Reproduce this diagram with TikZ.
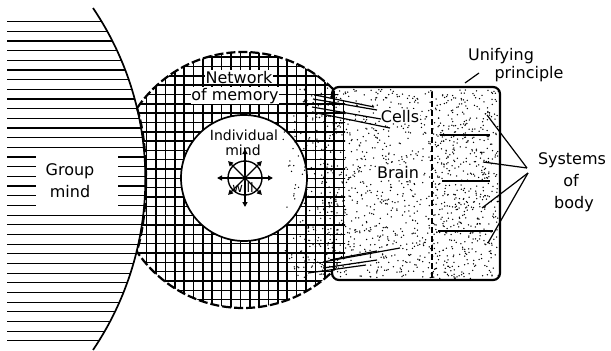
\documentclass[tikz,border=0pt]{standalone}
\usepackage{fontspec}
\setmainfont{DejaVu Sans}
\usetikzlibrary{arrows.meta,calc}
\begin{document}
\begin{tikzpicture}[x=1pt,y=-1pt,
  lbl/.style={font=\fontsize{16}{18}\selectfont, inner sep=0.6pt, anchor=base},
  smalllbl/.style={font=\fontsize{14}{16}\selectfont, inner sep=0.6pt, anchor=base},
  hatchln/.style={line width=1.2pt},
  gridln/.style={line width=1.6pt},
  outline/.style={line width=1.7pt},
  netdash/.style={line width=2.2pt, dash pattern=on 9pt off 3pt},
  boxln/.style={line width=2.2pt},
  leader/.style={line width=1.2pt},
  spoke/.style={line width=1.3pt, -{Triangle[length=5pt,width=5pt]}}]
\useasboundingbox (0,0) rectangle (611,351);

% ---- group mind: horizontal hatching inside the big circle
\begin{scope}
  \clip (-160,179) circle (305.4);
  \foreach \k in {0,...,33}
    \draw[hatchln] (7,21.7+9.67*\k) -- (170,21.7+9.67*\k);
\end{scope}
\fill[white] (36,153) rectangle (118,210);

% ---- network of memory: square grid between group mind and individual mind
\begin{scope}
  \clip (243,180) circle (128);
  \begin{scope}[even odd rule]
    \clip (0,0) rectangle (345,351) (-160,179) circle (305.4);
    \begin{scope}[even odd rule]
      \clip (0,0) rectangle (611,351) (244,178) circle (63);
      \foreach \k in {0,...,22}
        \draw[gridln] (137.3+9.37*\k,40) -- (137.3+9.37*\k,320);
      \foreach \k in {-19,...,9}
        \draw[gridln] (110,225+9.33*\k) -- (350,225+9.33*\k);
    \end{scope}
  \end{scope}
\end{scope}

% ---- stipple of the brain, fading into the network
\pgfmathsetseed{4711}
\foreach \i in {1,...,1900}{
  \pgfmathsetmacro\px{270+rnd*230}
  \pgfmathsetmacro\py{88+rnd*192}
  \pgfmathsetmacro\inbox{and(and(\px>334,\px<498.5),and(\py>89,\py<278.5))}
  \pgfmathsetmacro\incirc{((\px-243)/100)^2+((\py-180)/100)^2<1.6}
  \pgfmathsetmacro\w{\inbox>0.5 ? (\px>432 ? 1 : 0.8) : (\incirc>0.5 ? min(1,max(0,(\px-278)/55)) : 0)}
  \pgfmathsetmacro\keep{rnd<\w}
  \ifdim\keep pt>0.5pt \fill (\px,\py) circle (0.75); \fi
}

% ---- outlines
% group mind boundary
\draw[outline] (93,8) arc[start angle=-34.05, end angle=34.05, radius=305.4];
% network boundary, dashed
\draw[netdash] (243,180) ++(-145.8:128) arc[start angle=-145.8, end angle=-45, radius=128];
\draw[netdash] (243,180) ++(47:128) arc[start angle=47, end angle=146.2, radius=128];
\draw[netdash] (137,108) .. controls (149,145) and (149,212) .. (137,251);
% individual mind
\draw[outline] (244,178) circle (63);
% brain / body box
\draw[boxln, rounded corners=7] (332,98) -- (332,87) -- (500,87) -- (500,280) -- (332,280) -- (332,269);
\draw[line width=1.7pt, dash pattern=on 6pt off 3pt] (432,92) -- (432,278);
% partitions of the body systems
\draw[line width=1.4pt] (440,135) -- (490,135);
\draw[line width=1.4pt] (442,181) -- (490,181);
\draw[line width=1.4pt] (438,231) -- (493,231);

% ---- labels
\node[lbl, fill=white] (net1) at (239,83) {Network};
\node[lbl, fill=white] (net2) at (235,100) {of memory};
\node[smalllbl] (ind1) at (244,140) {Individual};
\node[smalllbl] (ind2) at (243,155) {mind};
\node[lbl] (grp1) at (70,175) {Group};
\node[lbl] (grp2) at (70,197) {mind};
\node[lbl, fill=white] (cells) at (400,122) {Cells};
\node[lbl, fill=white] (brain) at (398,178) {Brain};
\node[lbl] (uni1) at (501,60) {Unifying};
\node[lbl] (uni2) at (529,78) {principle};
\node[lbl] (sys1) at (572,164) {Systems};
\node[lbl] (sys2) at (571,186) {of};
\node[lbl] (sys3) at (574,208) {body};

% ---- will: hub with radiating arrows
\node[font=\fontsize{13}{14}\selectfont, inner sep=0pt, anchor=base] (will) at (243,192) {will};
\node[circle, draw, line width=1.4pt, minimum size=34pt, inner sep=0pt] (wheel) at (245,178) {};
\node[circle, fill, minimum size=6pt, inner sep=0pt] (hub) at (245,178) {};
\foreach \a/\r in {0/28,90/29,180/28,270/29,45/24,135/24,225/24,315/24}{
  \coordinate (tip\a) at ($(hub)+(\a:\r)$);
  \draw[spoke] (hub) -- (tip\a);
}

% ---- leaders: cells
\coordinate (ca1) at (315,95);  \coordinate (cb1) at (374,107);
\coordinate (ca2) at (313,99);  \coordinate (cb2) at (377,110);
\coordinate (ca3) at (312,107); \coordinate (cb3) at (381,119);
\coordinate (ca4) at (312,112); \coordinate (cb4) at (390,128);
\foreach \n in {1,...,4} \draw[leader] (ca\n) -- (cb\n);
\coordinate (cc1) at (323,262); \coordinate (cd1) at (400,248);
\coordinate (cc2) at (330,260); \coordinate (cd2) at (377,251);
\coordinate (cc3) at (323,268); \coordinate (cd3) at (377,260);
\coordinate (cc4) at (308,273); \coordinate (cd4) at (366,265);
\foreach \n in {1,...,4} \draw[leader] (cc\n) -- (cd\n);

% ---- leaders: unifying principle, systems of body
\coordinate (uA) at (465,83); \coordinate (uB) at (479,73);
\draw[leader] (uA) -- (uB);
\coordinate (sysA) at (527,168); \coordinate (sysB) at (528,173);
\coordinate (s1) at (487,115); \coordinate (s2) at (483,162);
\coordinate (s3) at (482,208); \coordinate (s4) at (488,243);
\draw[leader] (sysA) -- (s1);
\draw[leader] (sysA) -- (s2);
\draw[leader] (sysB) -- (s3);
\draw[leader] (sysB) -- (s4);
\end{tikzpicture}
\end{document}
